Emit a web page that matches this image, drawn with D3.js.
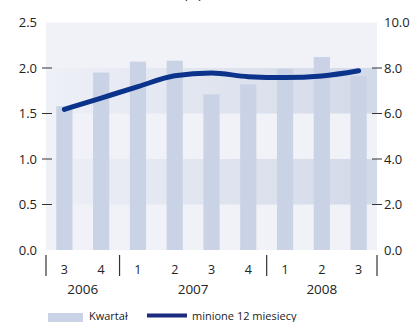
<!DOCTYPE html>
<html><head><meta charset="utf-8">
<script src="https://cdn.jsdelivr.net/npm/d3@7"></script>
<style>body{margin:0;background:#fff}svg{display:block}text{font-family:"Open Sans",sans-serif;fill:#222}</style>
</head><body><svg id="c" width="413" height="322"></svg>
<script>
const categories = ["2006Q3","2006Q4","2007Q1","2007Q2","2007Q3","2007Q4","2008Q1","2008Q2","2008Q3"];
const quarterLabels = ["3","4","1","2","3","4","1","2","3"];
const years = ["2006","2007","2008"];
const quarterly = [1.58,1.95,2.07,2.08,1.71,1.82,1.99,2.12,1.91];
const twelveMonths = [6.18,6.68,7.18,7.66,7.78,7.62,7.58,7.65,7.88];
const leftTicks = [0,0.5,1.0,1.5,2.0,2.5];
const rightTicks = [0,2,4,6,8,10];
const legendLabels = ["Kwartał","minione 12 miesiecy"];

const svg = d3.select("#c");
const L = 46, R = 377, T = 22.5, B = 250;
const x = d3.scaleBand().domain(categories).range([L, R]).paddingInner(0.56).paddingOuter(0.28);
const yL = d3.scaleLinear().domain([0,2.5]).range([B,T]);
const yR = d3.scaleLinear().domain([0,10]).range([B,T]);

const defs = svg.append("defs");
const g = defs.append("linearGradient").attr("id","band").attr("x1","0").attr("x2","1").attr("y1","0").attr("y2","0");
g.append("stop").attr("offset","0").attr("stop-color","#eef0f7");
g.append("stop").attr("offset","1").attr("stop-color","#d2d9e8");

svg.append("rect").attr("x",L).attr("y",T).attr("width",R-L).attr("height",B-T).attr("fill","#f0f2f8");
[[1.5,2.0],[0.5,1.0]].forEach(([a,b])=>{
  svg.append("rect").attr("x",L).attr("y",yL(b)).attr("width",R-L).attr("height",yL(a)-yL(b)).attr("fill","url(#band)");
});

svg.append("g").selectAll("rect").data(quarterly).join("rect")
  .attr("x",(d,i)=>x(categories[i])).attr("width",x.bandwidth())
  .attr("y",d=>yL(d)).attr("height",d=>B-yL(d)).attr("fill","#c9d3e5");

const line = d3.line().x((d,i)=>x(categories[i])+x.bandwidth()/2).y(d=>yR(d)).curve(d3.curveMonotoneX);
svg.append("path").datum(twelveMonths).attr("d",line).attr("fill","none")
  .attr("stroke","#0b338c").attr("stroke-width",5).attr("stroke-linecap","round").attr("stroke-linejoin","round");

const la = svg.append("g").attr("font-size",13);
leftTicks.forEach(t=>{
  la.append("text").attr("x",37).attr("y",yL(t)+4.5).attr("text-anchor","end").text(t.toFixed(1));
  if(t>0 && t<2.5) la.append("line").attr("x1",42).attr("x2",52).attr("y1",yL(t)).attr("y2",yL(t)).attr("stroke","#333").attr("stroke-width",1);
});
const ra = svg.append("g").attr("font-size",13);
rightTicks.forEach(t=>{
  ra.append("text").attr("x",384).attr("y",yR(t)+4.5).attr("text-anchor","start").text(t.toFixed(1));
  if(t>0 && t<10) ra.append("line").attr("x1",372).attr("x2",382).attr("y1",yR(t)).attr("y2",yR(t)).attr("stroke","#333").attr("stroke-width",1);
});

const xa = svg.append("g");
const sepX = [L,(x(categories[1])+x(categories[2])+x.bandwidth())/2,(x(categories[5])+x(categories[6])+x.bandwidth())/2,R];
sepX.forEach(px=>{
  xa.append("line").attr("x1",px).attr("x2",px).attr("y1",255).attr("y2",276).attr("stroke","#333").attr("stroke-width",1.2);
});
quarterLabels.forEach((q,i)=>{
  xa.append("text").attr("x",x(categories[i])+x.bandwidth()/2).attr("y",274).attr("text-anchor","middle").attr("font-size",12.5).text(q);
});
years.forEach((yv,k)=>{
  xa.append("text").attr("x",(sepX[k]+sepX[k+1])/2).attr("y",294).attr("text-anchor","middle").attr("font-size",13.5).text(yv);
});

svg.append("text").attr("x",193).attr("y",-1).attr("text-anchor","middle").attr("font-size",13).text("(%)");

const lg = svg.append("g").attr("font-size",11);
lg.append("rect").attr("x",48).attr("y",313).attr("width",35).attr("height",9).attr("fill","#c9d3e5");
lg.append("text").attr("x",89).attr("y",320).text(legendLabels[0]);
lg.append("line").attr("x1",147).attr("x2",187).attr("y1",315.5).attr("y2",315.5).attr("stroke","#1a2b80").attr("stroke-width",4);
lg.append("text").attr("x",192).attr("y",320).text(legendLabels[1]);
</script></body></html>
